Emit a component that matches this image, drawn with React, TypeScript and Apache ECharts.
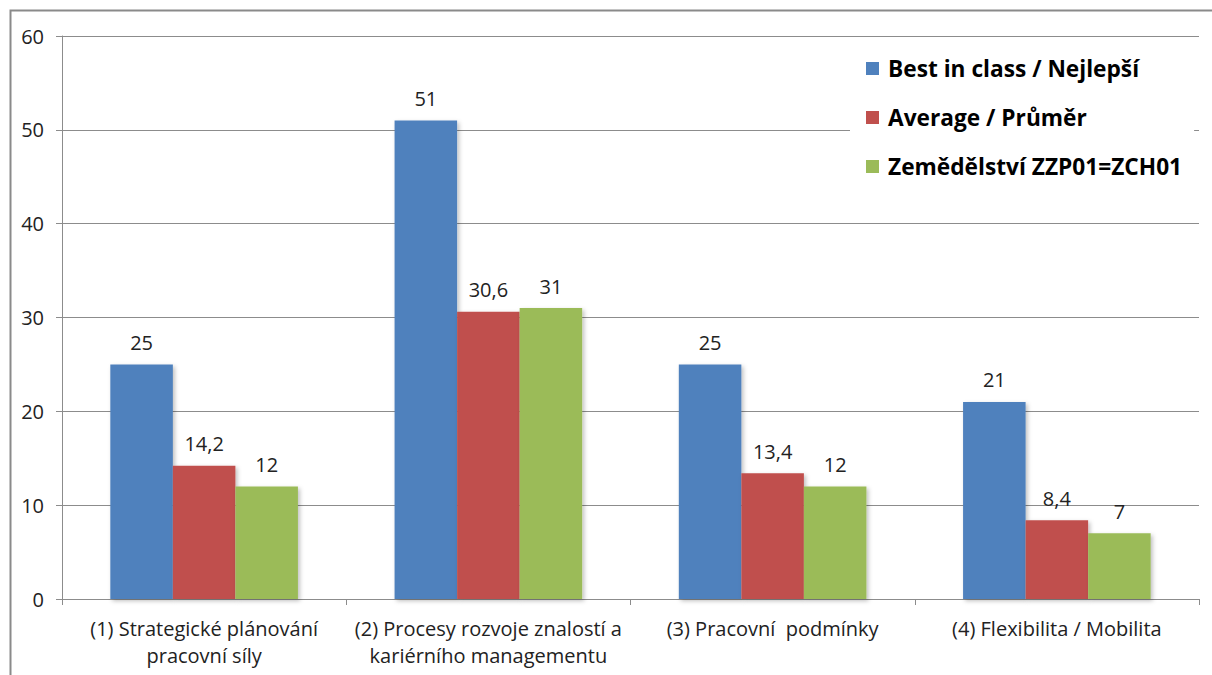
import React, { useEffect, useRef } from "react";
import * as echarts from "echarts";

const categories = [
  "(1) Strategické plánování\npracovní síly",
  "(2) Procesy rozvoje znalostí a\nkariérního managementu",
  "(3) Pracovní  podmínky",
  "(4) Flexibilita / Mobilita",
];
const seriesNames = ["Best in class / Nejlepší", "Average / Průměr", "Zemědělství ZZP01=ZCH01"];
const bestValues = [25, 51, 25, 21];
const averageValues = [14.2, 30.6, 13.4, 8.4];
const zemedelstviValues = [12, 31, 12, 7];
const colors = ["#4F81BD", "#C0504D", "#9BBB59"];

const FONT = "'Open Sans', 'Noto Sans', sans-serif";

export default function App() {
  const ref = useRef<HTMLDivElement>(null);
  useEffect(() => {
    document.body.style.margin = "0";
    const chart = echarts.init(ref.current!, null, { renderer: "svg" });
    const seriesData = [bestValues, averageValues, zemedelstviValues];
    chart.setOption({
      animation: false,
      backgroundColor: "#ffffff",
      textStyle: { fontFamily: FONT },
      graphic: [
        {
          type: "rect",
          shape: { x: 10.5, y: 10.5, width: 1300, height: 800 },
          style: { fill: "none", stroke: "#8a8a8a", lineWidth: 2 },
          silent: true,
          z: -1,
        },
      ],
      grid: { left: 62, right: 13, top: 36, bottom: 76 },
      legend: {
        orient: "vertical",
        left: 850,
        top: 43,
        backgroundColor: "#ffffff",
        padding: [14, 12, 16, 16],
        itemGap: 26,
        itemWidth: 13,
        itemHeight: 13,
        icon: "rect",
        textStyle: {
          fontFamily: FONT,
          fontSize: 22.7,
          fontWeight: "bold",
          color: "#000",
          padding: [0, 0, 0, 4],
        },
        data: seriesNames,
        z: 10,
      },
      xAxis: {
        type: "category",
        data: categories,
        axisLine: { lineStyle: { color: "#8c8c8c", width: 1 } },
        axisTick: { show: true, length: 6, lineStyle: { color: "#8c8c8c" } },
        axisLabel: {
          fontFamily: FONT,
          fontSize: 20,
          color: "#222",
          lineHeight: 27,
          margin: 16,
          interval: 0,
        },
      },
      yAxis: {
        type: "value",
        min: 0,
        max: 60,
        interval: 10,
        axisLine: { show: true, lineStyle: { color: "#8c8c8c" } },
        axisTick: { show: true, length: 6, lineStyle: { color: "#8c8c8c" } },
        splitLine: { lineStyle: { color: "#8c8c8c" } },
        axisLabel: { fontFamily: FONT, fontSize: 20, color: "#222", margin: 18 },
      },
      series: seriesNames.map((name, i) => ({
        name,
        type: "bar",
        data: seriesData[i],
        barGap: "0%",
        barCategoryGap: "34%",
        itemStyle: {
          color: colors[i],
          shadowColor: "rgba(0,0,0,0.25)",
          shadowBlur: 4,
          shadowOffsetX: 2,
          shadowOffsetY: 2,
        },
        label: {
          show: true,
          position: "top",
          distance: 12,
          fontFamily: FONT,
          fontSize: 20,
          color: "#222",
          formatter: (p: any) => String(p.value).replace(".", ","),
        },
      })),
    });
    return () => chart.dispose();
  }, []);
  return <div ref={ref} style={{ width: 1212, height: 675 }} />;
}
